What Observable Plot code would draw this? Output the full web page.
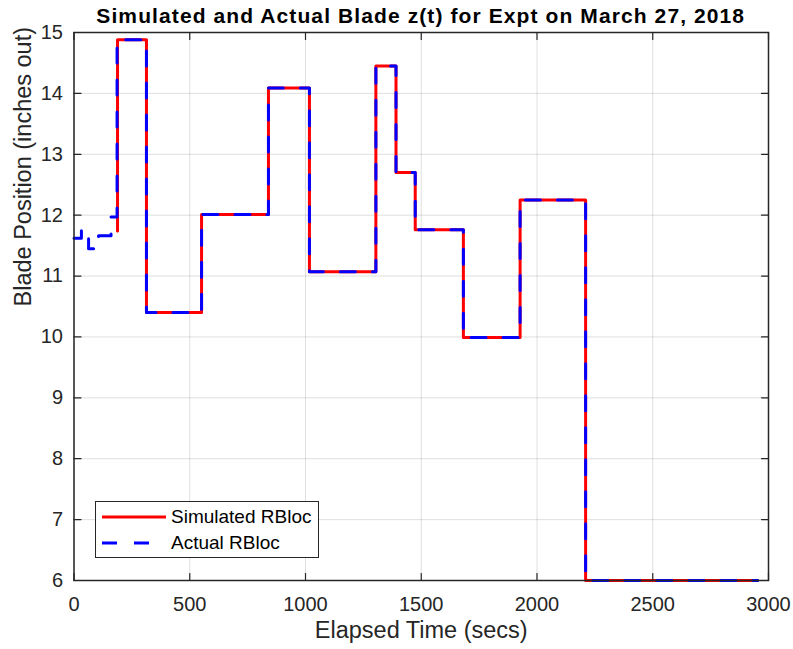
<!DOCTYPE html>
<html><head><meta charset="utf-8">
<script src="https://cdn.jsdelivr.net/npm/d3@7"></script>
<script src="https://cdn.jsdelivr.net/npm/@observablehq/plot@0.6"></script>
<style>
body{margin:0;background:#fff;}
#wrap{position:relative;width:793px;height:649px;font-family:"Liberation Sans",Arial,sans-serif;color:#262626;}
#title{position:absolute;left:73.5px;width:694.5px;top:5px;text-align:center;font-size:21px;line-height:21px;font-weight:bold;letter-spacing:1.1px;color:#000;white-space:nowrap;}
#legend{position:absolute;left:95px;top:501px;width:224px;height:57px;border:1px solid #262626;background:#fff;box-sizing:border-box;}
#legend svg{position:absolute;left:6px;}
#legend .lab{position:absolute;left:75px;font-size:19px;line-height:19px;color:#000;white-space:nowrap;}
</style></head><body><div id="wrap"></div>
<script>
const xTicks = [0, 500, 1000, 1500, 2000, 2500, 3000];
const yTicks = [6, 7, 8, 9, 10, 11, 12, 13, 14, 15];
const simTime = [188, 188, 313, 551, 840, 1017, 1304, 1391, 1474, 1682, 1927, 2210, 2953];
const simZ    = [11.74, 14.88, 10.40, 12.01, 14.09, 11.07, 14.45, 12.70, 11.76, 9.99, 12.25, 6.0, 6.0];
const actTime = [0, 32, 63, 106, 160, 186, 313, 551, 840, 1017, 1304, 1391, 1474, 1682, 1927, 2210, 2953];
const actZ    = [11.62, 11.76, 11.45, 11.66, 11.97, 14.88, 10.40, 12.01, 14.09, 11.07, 14.45, 12.70, 11.76, 9.99, 12.25, 6.0, 6.0];
const seriesNames = ["Simulated RBloc", "Actual RBloc"];
const titleText = "Simulated and Actual Blade z(t) for Expt on March 27, 2018";
const xLabel = "Elapsed Time (secs)";
const yLabel = "Blade Position (inches out)";

const sim = simTime.map((t, i) => ({t, z: simZ[i]}));
const act = actTime.map((t, i) => ({t, z: actZ[i]}));

const tickShape = {draw(ctx, l) { ctx.moveTo(0, 0); ctx.lineTo(0, -l); }};
const axisColor = "#262626";
const tick = (data, opts) => Plot.vector(data, {length: 7, anchor: "start", shape: tickShape, stroke: axisColor, strokeWidth: 1.2, ...opts});

const chart = Plot.plot({
  width: 793,
  height: 649,
  marginLeft: 73.5,
  marginRight: 25,
  marginTop: 32,
  marginBottom: 69,
  style: {fontFamily: "'Liberation Sans', Arial, sans-serif", color: axisColor, background: "#fff"},
  x: {domain: [0, 3000]},
  y: {domain: [6, 15]},
  marks: [
    Plot.gridX(xTicks, {stroke: "#262626", strokeOpacity: 0.15, strokeWidth: 1}),
    Plot.gridY(yTicks, {stroke: "#262626", strokeOpacity: 0.15, strokeWidth: 1}),
    Plot.line(sim, {x: "t", y: "z", curve: "step-after", stroke: "#ff0000", strokeWidth: 3, strokeLinejoin: "round"}),
    Plot.line(act, {x: "t", y: "z", curve: "step-after", stroke: "#0000ff", strokeWidth: 3, strokeDasharray: "15,17", strokeLinejoin: "round"}),
    Plot.frame({stroke: axisColor, strokeWidth: 1.5}),
    tick(xTicks, {x: d => d, frameAnchor: "bottom", rotate: 0}),
    tick(xTicks, {x: d => d, frameAnchor: "top", rotate: 180}),
    tick(yTicks, {y: d => d, frameAnchor: "left", rotate: 90}),
    tick(yTicks, {y: d => d, frameAnchor: "right", rotate: -90}),
    Plot.axisX(xTicks, {tickSize: 0, tickPadding: 16, fontSize: 20, label: null, fill: axisColor, tickFormat: d => String(d)}),
    Plot.axisY(yTicks, {tickSize: 0, tickPadding: 11, fontSize: 20, label: null, fill: axisColor, tickFormat: d => String(d)}),
    Plot.text([xLabel], {frameAnchor: "bottom", dy: 57, fontSize: 23.5, fill: axisColor}),
    Plot.text([yLabel], {frameAnchor: "left", dx: -51, rotate: -90, fontSize: 23.5, fill: axisColor})
  ]
});
const wrap = document.getElementById("wrap");
wrap.appendChild(chart);

const title = document.createElement("div");
title.id = "title";
title.textContent = titleText;
wrap.appendChild(title);

const legend = document.createElement("div");
legend.id = "legend";
legend.innerHTML = `
<svg width="64" height="6" style="top:11.7px"><line x1="0" x2="64" y1="3" y2="3" stroke="#ff0000" stroke-width="3"/></svg>
<div class="lab" style="top:5px">${seriesNames[0]}</div>
<svg width="64" height="6" style="top:37.7px"><line x1="0" x2="64" y1="3" y2="3" stroke="#0000ff" stroke-width="3" stroke-dasharray="15,17"/></svg>
<div class="lab" style="top:31px">${seriesNames[1]}</div>`;
wrap.appendChild(legend);
</script>
</body></html>
